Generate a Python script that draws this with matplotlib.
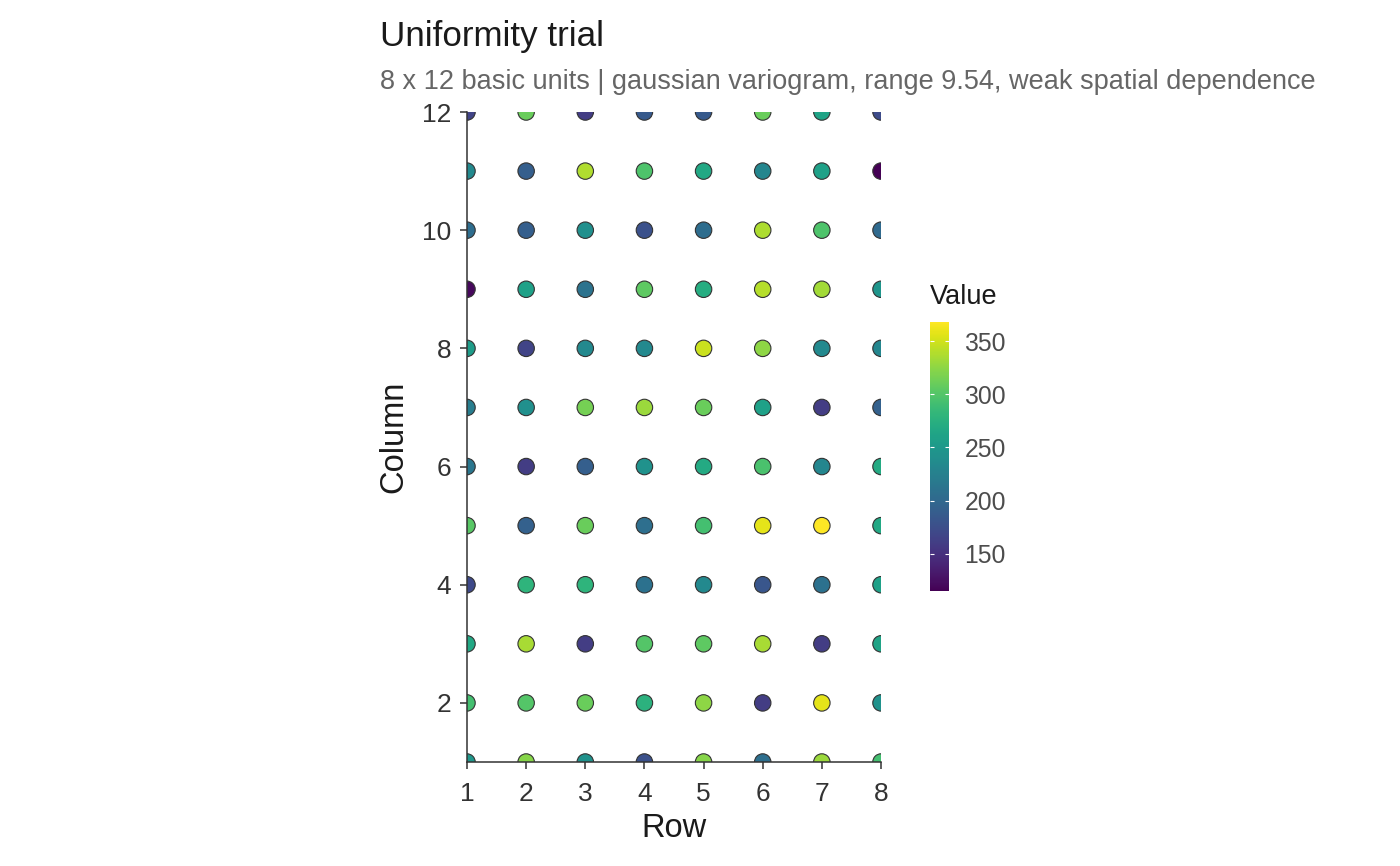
import numpy as np
import matplotlib.pyplot as plt

# uniformity trial layout: 8 rows x 12 columns
rows = [1, 2, 3, 4, 5, 6, 7, 8]
columns = [1, 2, 3, 4, 5, 6, 7, 8, 9, 10, 11, 12]

# values per column (row 1 .. row 8)
col_01 = [249, 322, 244, 178, 322, 206, 330, 292]
col_02 = [292, 300, 310, 277, 325, 160, 358, 244]
col_03 = [267, 335, 160, 300, 305, 335, 160, 262]
col_04 = [171, 280, 280, 209, 234, 183, 209, 259]
col_05 = [302, 193, 310, 206, 292, 358, 368, 267]
col_06 = [214, 160, 191, 244, 269, 295, 231, 269]
col_07 = [221, 241, 315, 330, 310, 259, 160, 193]
col_08 = [254, 166, 234, 234, 348, 325, 234, 231]
col_09 = [120, 259, 211, 305, 272, 340, 333, 247]
col_10 = [204, 191, 241, 178, 204, 337, 297, 201]
col_11 = [234, 191, 338, 297, 267, 231, 259, 115]
col_12 = [166, 310, 160, 186, 186, 310, 262, 173]

grid = np.array([col_01, col_02, col_03, col_04, col_05, col_06,
                 col_07, col_08, col_09, col_10, col_11, col_12])
xx, yy = np.meshgrid(rows, columns)

plt.rcParams['font.family'] = ['Liberation Sans', 'DejaVu Sans']

fig = plt.figure(figsize=(14, 8.66), dpi=100)
ax = fig.add_axes([467/1400, 1-762/866, 414/1400, 650/866])

sc = ax.scatter(xx.ravel(), yy.ravel(), c=grid.ravel(), cmap='viridis',
                s=140, edgecolors='#333333', linewidths=0.8, zorder=3)

ax.set_xlim(1, 8)
ax.set_ylim(1, 12)
ax.set_xticks(rows)
ax.set_yticks([2, 4, 6, 8, 10, 12])
for s in ['top', 'right']:
    ax.spines[s].set_visible(False)
for s in ['left', 'bottom']:
    ax.spines[s].set_color('#333333')
    ax.spines[s].set_linewidth(1.1)
    ax.spines[s].set_zorder(4)
ax.tick_params(colors='#333333', labelcolor='#333333', labelsize=19,
               length=5, width=1.1)
ax.tick_params(axis='x', pad=9.5)
ax.tick_params(axis='y', pad=6.5)
ax.set_xlabel('Row', fontsize=23.5, color='#1a1a1a', labelpad=5)
ax.set_ylabel('Column', fontsize=23.5, color='#1a1a1a', labelpad=9)

fig.text(380/1400, 1-46/866, 'Uniformity trial', fontsize=25.2,
         color='#1a1a1a', ha='left', va='baseline')
fig.text(380/1400, 1-89/866,
         '8 x 12 basic units | gaussian variogram, range 9.54, weak spatial dependence',
         fontsize=19.5, color='#666666', ha='left', va='baseline')

# colour bar
cax = fig.add_axes([930/1400, 1-591/866, 19/1400, 269/866])
cb = fig.colorbar(sc, cax=cax)
cb.outline.set_visible(False)
cb.set_ticks([150, 200, 250, 300, 350])
cax.tick_params(direction='in', length=3, width=0.8, color='white',
                labelsize=17.8, labelcolor='#4d4d4d', pad=11,
                left=True, right=True)
fig.text(930/1400, 1-304/866, 'Value', fontsize=19.5, color='#1a1a1a',
         ha='left', va='baseline')

plt.savefig('out.png', dpi=100)
